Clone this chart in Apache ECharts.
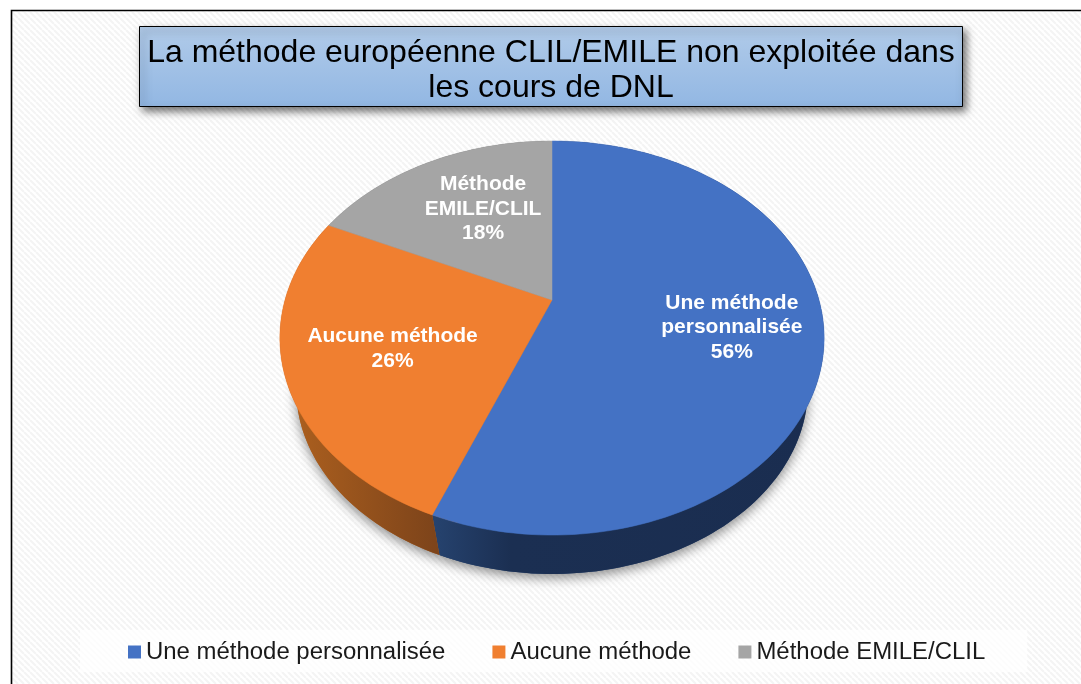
<!DOCTYPE html>
<html>
<head>
<meta charset="utf-8">
<style>
  html, body { margin: 0; padding: 0; background: #fff; }
  #chart { width: 1081px; height: 684px; }
</style>
<script src="https://cdn.jsdelivr.net/npm/echarts@6/dist/echarts.min.js"></script>
</head>
<body>
<div id="chart"></div>
<script>
const categories = ['Une méthode personnalisée', 'Aucune méthode', 'Méthode EMILE/CLIL'];
const labelLines = [['Une méthode', 'personnalisée'], ['Aucune méthode'], ['Méthode', 'EMILE/CLIL']];
const values = [56, 26, 18];
const titleText = 'La méthode européenne CLIL/EMILE non exploitée dans\nles cours de DNL';

const topColors = ['#4472c4', '#f07f30', '#a5a5a5'];
const sideColors = [
  [[0, '#26436f'], [0.2, '#1b2f52'], [1, '#1a2d50']],
  [[0, '#b0621f'], [1, '#7c431a']],
  [[0, '#6f6f6f'], [1, '#5a5a5a']]
];
const labelShift = [[8, 4], [7, 2], [14, 2]];

// pie is drawn as a tilted disc, so the hub sits above the middle of the ellipse
const hubX = 552, hubY = 300, radX = 267, radY = 189.7, tilt = 0.193;
const depthY = 53, depthScale = 0.94;

const total = values.reduce((a, b) => a + b, 0);

function project(deg, frac, lower) {
  const t = deg * Math.PI / 180;
  const px = Math.sin(t) * frac, py = -Math.cos(t) * frac;
  const w = 1 - tilt * py;
  const s = lower ? depthScale : 1;
  return [hubX + s * radX * px / w, hubY + (lower ? depthY : 0) + s * radY * py / w];
}

function rim(a0, a1, lower) {
  const pts = [];
  const n = Math.ceil((a1 - a0) / 1.5);
  for (let i = 0; i <= n; i++) pts.push(project(a0 + (a1 - a0) * i / n, 1, lower));
  return pts;
}

function stops(list) {
  return list.map(s => ({ offset: s[0], color: s[1] }));
}

function makeRenderItem(index) {
  return function (params, api) {
    const val = api.value(0);
    const before = values.slice(0, index).reduce((a, b) => a + b, 0);
    const a0 = before / total * 360;
    const a1 = a0 + val / total * 360;
    const mid = (a0 + a1) / 2;
    const top = rim(a0, a1, false);
    const low = rim(a0, a1, true);
    const hub = project(0, 0, false);
    const hubLow = project(0, 0, true);
    const lp = project(mid, 0.64, false);
    const text = labelLines[index].concat(val + '%').join('\n');
    return {
      type: 'group',
      children: [
        {
          type: 'polygon',
          z2: 1,
          shape: { points: [hubLow].concat(low) },
          style: { fill: sideColors[index][0][1], shadowBlur: 12, shadowColor: 'rgba(0,0,0,0.45)', shadowOffsetY: 4 }
        },
        {
          type: 'polygon',
          z2: 2,
          shape: { points: top.concat(low.slice().reverse()) },
          style: {
            fill: { type: 'linear', x: 0, y: 0, x2: 1, y2: 0, colorStops: stops(sideColors[index]) }
          }
        },
        {
          type: 'polygon',
          z2: 3,
          shape: { points: [hub].concat(top) },
          style: { fill: topColors[index], stroke: topColors[index], lineWidth: 0.5 }
        },
        {
          type: 'text',
          z2: 4,
          style: {
            text: text,
            x: lp[0] + labelShift[index][0],
            y: lp[1] + labelShift[index][1],
            align: 'center',
            verticalAlign: 'middle',
            fill: '#fff',
            font: 'bold 21px "Liberation Sans", Arial, sans-serif',
            lineHeight: 24.5
          }
        }
      ]
    };
  };
}

// light diagonal hatch of the chart area
function hatchTile() {
  const c = document.createElement('canvas');
  c.width = 6;
  c.height = 6;
  const g = c.getContext('2d');
  g.fillStyle = '#ffffff';
  g.fillRect(0, 0, 6, 6);
  g.strokeStyle = '#f4f4f4';
  g.lineWidth = 2;
  [-6, 0, 6].forEach(d => {
    g.beginPath();
    g.moveTo(d, 0);
    g.lineTo(d + 6, 6);
    g.stroke();
  });
  return c;
}

const chart = echarts.init(document.getElementById('chart'), null, { renderer: 'canvas' });

chart.setOption({
  animation: false,
  backgroundColor: '#fff',
  textStyle: { fontFamily: '"Liberation Sans", Arial, sans-serif' },
  graphic: [{
    type: 'rect',
    z: -10,
    silent: true,
    shape: { x: 11.5, y: 10.5, width: 1100, height: 700 },
    style: { fill: { image: hatchTile(), repeat: 'repeat' }, stroke: '#000', lineWidth: 1.6 }
  }],
  title: {
    text: titleText,
    left: 543,
    top: 26,
    textAlign: 'center',
    padding: [10, 8, 2, 8],
    borderColor: '#000',
    borderWidth: 1,
    backgroundColor: {
      type: 'linear', x: 0, y: 0, x2: 0, y2: 1,
      colorStops: [{ offset: 0, color: '#b1cbe9' }, { offset: 1, color: '#92b7e3' }]
    },
    shadowBlur: 8,
    shadowColor: 'rgba(0,0,0,0.55)',
    shadowOffsetX: 3,
    shadowOffsetY: 4,
    textStyle: {
      color: '#000',
      fontSize: 32,
      fontWeight: 'normal',
      lineHeight: 34.5,
      fontFamily: '"Liberation Sans", Arial, sans-serif'
    }
  },
  legend: {
    left: 80,
    top: 630,
    padding: [10, 42, 8, 48],
    itemGap: 47,
    itemWidth: 13,
    itemHeight: 13,
    icon: 'rect',
    backgroundColor: 'rgba(255,255,255,0.75)',
    selectedMode: false,
    data: categories,
    textStyle: { color: '#1a1a1a', fontSize: 23.95, fontFamily: '"Liberation Sans", Arial, sans-serif' }
  },
  series: categories.map((name, i) => ({
    type: 'custom',
    name: name,
    coordinateSystem: 'none',
    silent: true,
    itemStyle: { color: topColors[i] },
    renderItem: makeRenderItem(i),
    data: [values[i]]
  }))
});
</script>
</body>
</html>
